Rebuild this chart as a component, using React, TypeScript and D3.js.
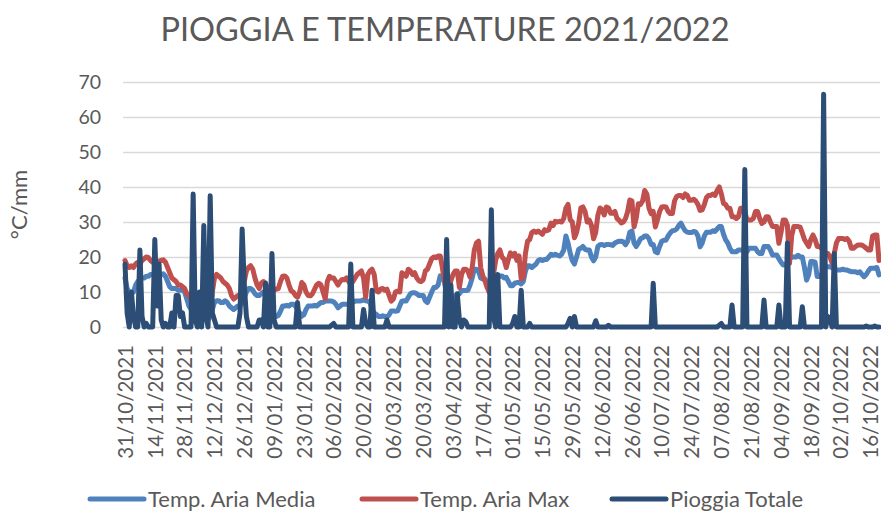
import React, { useEffect, useRef } from 'react';
import * as d3 from 'd3';

// daily values from 31/10/2021, one entry per day
const tempMax = [
  19, 17.5, 17, 17.5, 17, 18, 18.5, 18, 19, 19.5,
  20, 19.8, 19, 18.5, 18.5, 18, 18.8, 19, 19.2, 18.5,
  17, 15.5, 14, 13.5, 13, 12, 12, 11.5, 11, 9.5,
  9, 8, 8, 9, 7, 6, 7, 5, 4.5, 4,
  5, 10, 14, 15, 14.5, 14, 13, 12.5, 12, 11,
  9, 8, 8.5, 9, 9, 11, 13, 16, 17, 17.5,
  16.5, 14, 12, 11, 12.5, 13, 12.5, 11, 10.5, 10,
  10.5, 10.8, 11, 13, 14.5, 14.6, 14, 12, 10.3, 10,
  9, 8.5, 10, 12.7, 12, 10, 9, 8.9, 9.5, 10.8,
  12, 12.5, 12, 10, 8, 13, 14.5, 14, 14, 13,
  12, 13, 13.6, 13.5, 14, 13, 12, 13, 14, 15,
  15.5, 16, 14, 8.5, 15, 16, 16.5, 15, 10.3, 10,
  10.8, 11, 10.5, 10.8, 9, 7.4, 8, 10, 10.3, 10,
  15.5, 15, 14.5, 16.5, 16, 15, 15.5, 14, 13.2, 13,
  13.5, 16, 16.5, 18, 19.5, 20, 19.8, 20.3, 20.3, 17,
  13, 10.4, 11, 13.2, 15, 16, 16, 11.3, 15, 16.5,
  16.5, 16, 14.2, 17, 22, 24, 24.5, 17, 14.6, 13.2,
  11.3, 10, 10.5, 15, 19, 21, 22, 20, 19.3, 17,
  19.3, 21.2, 20.3, 21, 19, 20.3, 13.7, 14.2, 21, 24.5,
  25, 27, 27.4, 27, 27.4, 27, 26.5, 27.8, 27.5, 27.8,
  29.7, 29, 30.2, 30, 30.2, 30, 31, 34, 35, 30.7,
  30, 25.5, 27, 29.7, 34, 34.3, 33, 30, 30.5, 29,
  25.2, 27, 31.9, 34, 33.5, 32, 34.3, 34, 32.5, 32.5,
  33, 31, 30.5, 29.7, 30, 31, 33, 36.3, 36, 28.6,
  31, 35.2, 35, 36, 39, 38, 34, 32.4, 33, 28.6,
  30.7, 33, 34.3, 34.4, 34.3, 33, 32.4, 32.4, 36, 37.3,
  37.6, 37.6, 37, 38, 37.6, 36.2, 36.2, 36.5, 36, 35,
  33.3, 33.5, 35, 37, 37.6, 37.6, 38, 37.6, 39, 40,
  38, 35.3, 35, 33.9, 33.9, 31.5, 31.5, 31, 31.5, 33.9,
  33.9, 33, 30.6, 30.6, 30.6, 31, 33, 33, 31, 29.6,
  30, 31.5, 31.5, 30, 28.7, 28.7, 28.7, 23.9, 27, 30.6,
  30.6, 29, 18.2, 26, 28.7, 28.7, 28.7, 28.5, 26.8, 25,
  24, 23, 25, 26.3, 25, 23, 23, 22.5, 22, 21,
  21, 20, 18.2, 21, 24, 25.3, 25.3, 25.3, 25, 25.3,
  24.5, 22.5, 22.5, 23, 23.4, 23.4, 23.4, 23, 22.5, 22,
  22, 26, 26.3, 26.3, 19,
];

const tempMedia = [
  14, 11, 10, 9.5, 10, 12, 13, 13.5, 14, 14,
  14.5, 14.5, 15, 15, 15.5, 15, 15, 15, 15.2, 14.5,
  13, 11.5, 11, 11, 11, 10.5, 10.5, 10.5, 10, 8,
  6, 5, 4, 5, 4, 3, 3.5, 2.5, 2, 2,
  3, 5, 7, 7.5, 7.5, 7, 7, 7.5, 7, 6,
  5.5, 5, 5.5, 6, 6, 7, 8.5, 10, 11, 11,
  10.5, 9.5, 9, 9, 9.5, 10, 9.5, 8.5, 8, 6,
  3.5, 3, 3.3, 4.5, 6, 6, 6.2, 6, 6.5, 6.5,
  6, 5, 4, 3.1, 3.5, 5, 6, 6, 6, 6.2,
  6, 6.5, 7, 7, 7.4, 7.5, 7.4, 7.4, 7.2, 6.5,
  5.5, 6, 6.5, 6.5, 6.5, 6.5, 7, 7, 7.4, 7.4,
  7.4, 7.5, 7.8, 7.5, 7.4, 7, 5, 4, 3.6, 3,
  3, 3.2, 3, 2.8, 3.5, 4.6, 4.6, 4.5, 4.6, 6,
  7.4, 7.5, 7.4, 8.5, 9.5, 9.8, 9.8, 9.5, 9, 9,
  9, 7.5, 7, 8.5, 10, 11.3, 11.3, 12, 14.6, 14,
  13, 9, 5, 6, 8, 9, 9, 9.5, 10.4, 10.4,
  10.4, 10.5, 12, 14, 16.5, 16.5, 16, 14, 13.7, 13.7,
  12.3, 10, 9, 10, 12, 14, 14.6, 14.6, 14, 14.2,
  13, 11.8, 11.8, 12.5, 12.7, 12.7, 12.3, 13, 16, 17.5,
  17.5, 17, 17.5, 18, 19, 19.3, 19, 19.3, 19.3, 20,
  20.8, 20.5, 20.8, 20.5, 20.3, 20.8, 22, 26, 24, 21.2,
  19, 18, 20, 22.2, 22.5, 23, 22.2, 22, 22, 20,
  18.9, 20, 23, 23.5, 23.6, 23.3, 23.6, 23.6, 23.5, 23.3,
  24, 24.3, 24.5, 24.5, 24.3, 23.5, 24.5, 27.1, 27.4, 24,
  23, 24, 25.2, 25.5, 26, 26, 25.2, 23.6, 23.6, 21.5,
  21.2, 23, 24.5, 24.8, 24.8, 26, 26.9, 27.5, 27.6, 28,
  29, 29.7, 28.5, 27.5, 27.1, 27, 27, 27.3, 27.1, 26,
  22.9, 24, 26, 27.1, 27.1, 27.1, 27.5, 27.3, 28, 28.7,
  28.7, 26.5, 24.9, 24, 22.5, 21.5, 21.5, 21.5, 22, 22,
  22, 22, 21.5, 22.5, 22.5, 22.5, 22.5, 21.5, 21, 21,
  23, 23, 23, 22, 20.6, 20.6, 20.6, 19.5, 18.5, 17.7,
  17.7, 18.5, 19.5, 20, 20, 20, 20.5, 20, 20, 17,
  13.4, 15, 18.7, 18.7, 18.5, 14.4, 14.4, 15, 16, 17.2,
  17.2, 17.2, 17, 16.5, 16.3, 16.3, 16.3, 16.5, 16.3, 16.3,
  16, 15.8, 15.8, 15.8, 15.5, 15.8, 15, 14.4, 15, 16,
  16.8, 16.8, 16.8, 17, 14.9,
];

// rainy days only: [day offset from 31/10/2021, mm]
const rainEvents: [number, number][] = [
  [0, 18], [1, 4], [3, 10], [4, 3], [7, 22], [8, 3], [10, 1],
  [14, 25], [15, 6], [16, 18], [17, 2], [19, 1], [22, 4], [24, 9],
  [25, 9], [26, 3], [27, 4], [32, 38], [33, 2], [35, 10], [37, 29],
  [38, 3], [40, 37.5], [41, 4], [42, 2], [54, 4], [55, 28], [56, 12],
  [57, 3], [63, 2], [64, 2], [66, 12.5], [69, 21], [70, 2], [81, 7],
  [97, 0.5], [98, 1], [106, 18], [112, 5], [113, 1], [116, 10.5],
  [123, 2], [151, 25], [153, 12], [156, 9.5], [157, 2], [159, 2],
  [160, 1.5], [172, 33.5], [173, 3], [175, 15], [182, 1], [183, 3],
  [186, 10.5], [190, 1], [208, 1], [209, 2.5], [211, 3], [221, 1.8],
  [227, 0.5], [248, 12.5], [279, 0.5], [280, 1], [285, 6.3], [291, 45],
  [300, 7.7], [307, 6.3], [311, 24], [318, 5.8], [328, 66.5], [330, 3],
  [331, 2], [333, 21], [348, 0.3], [352, 0.3],
];

const seriesNames = ['Temp. Aria Media', 'Temp. Aria Max', 'Pioggia Totale'];
const seriesColors = ['#4f81bd', '#c0504d', '#2c4d75'];
const yTicks = [0, 10, 20, 30, 40, 50, 60, 70];

const W = 881, H = 511;
const FONT = 'Lato, "Open Sans", sans-serif';
const GREY = '#595959';

const App = () => {
  const ref = useRef<SVGSVGElement>(null);

  useEffect(() => {
    const svg = d3.select(ref.current);
    svg.selectAll('*').remove();

    const start = new Date(Date.UTC(2021, 9, 31));
    const n = tempMax.length;
    const dates = d3.range(n).map(i => d3.utcDay.offset(start, i));
    const rain = new Array(n).fill(0);
    rainEvents.forEach(([d, mm]) => { rain[d] = mm; });

    const x = d3.scaleUtc().domain([dates[0], dates[n - 1]]).range([125, 879]);
    const y = d3.scaleLinear().domain([0, 70]).range([327, 82]);
    const gridLeft = 123, gridRight = 880;

    // gridlines + y labels
    svg.append('g')
      .attr('transform', `translate(${gridLeft},0)`)
      .call(d3.axisLeft(y).tickValues(yTicks).tickSize(-(gridRight - gridLeft)).tickPadding(22))
      .call(g => g.select('.domain').remove())
      .call(g => g.selectAll('line').attr('stroke', '#d9d9d9').attr('stroke-width', 1.3))
      .call(g => g.selectAll('text')
        .attr('font-family', FONT).attr('font-size', 19.5).attr('fill', GREY));

    // x labels every two weeks
    const tickDates = d3.range(0, n, 14).map(i => dates[i]);
    svg.append('g')
      .attr('transform', `translate(0,${y(0)})`)
      .call(d3.axisBottom(x).tickValues(tickDates).tickSize(0).tickFormat(d3.utcFormat('%d/%m/%Y') as any))
      .call(g => g.select('.domain').remove())
      .call(g => g.selectAll('text')
        .attr('transform', 'rotate(-90)')
        .attr('x', -18).attr('y', 0).attr('dy', '0.35em')
        .attr('text-anchor', 'end')
        .attr('font-family', FONT).attr('font-size', 20.5).attr('fill', GREY));

    const line = d3.line<number>()
      .x((_, i) => x(dates[i]))
      .y(d => y(d));

    [tempMedia, tempMax, rain].forEach((values, k) => {
      svg.append('path')
        .attr('d', line(values))
        .attr('fill', 'none')
        .attr('stroke', seriesColors[k])
        .attr('stroke-width', 5)
        .attr('stroke-linejoin', 'round')
        .attr('stroke-linecap', 'round');
    });

    // title
    svg.append('text')
      .attr('x', 445).attr('y', 41)
      .attr('text-anchor', 'middle')
      .attr('font-family', FONT).attr('font-size', 32.5).attr('fill', GREY)
      .text('PIOGGIA E TEMPERATURE 2021/2022');

    // y axis title
    svg.append('text')
      .attr('transform', `translate(19,${(y(0) + y(70)) / 2}) rotate(-90)`)
      .attr('dy', '0.35em')
      .attr('text-anchor', 'middle')
      .attr('font-family', FONT).attr('font-size', 22).attr('fill', GREY)
      .text('°C/mm');

    // legend
    const legendX = [90, 362, 612];
    const legend = svg.append('g').attr('transform', 'translate(0,499)');
    seriesNames.forEach((name, k) => {
      legend.append('line')
        .attr('x1', legendX[k]).attr('x2', legendX[k] + 54)
        .attr('stroke', seriesColors[k]).attr('stroke-width', 5)
        .attr('stroke-linecap', 'round');
      legend.append('text')
        .attr('x', legendX[k] + 58).attr('dy', '0.35em')
        .attr('font-family', FONT).attr('font-size', 22).attr('fill', GREY)
        .text(name);
    });
  }, []);

  return (
    <svg ref={ref} width={W} height={H}
      style={{ position: 'absolute', left: 0, top: 0, background: '#fff' }} />
  );
};

export default App;
